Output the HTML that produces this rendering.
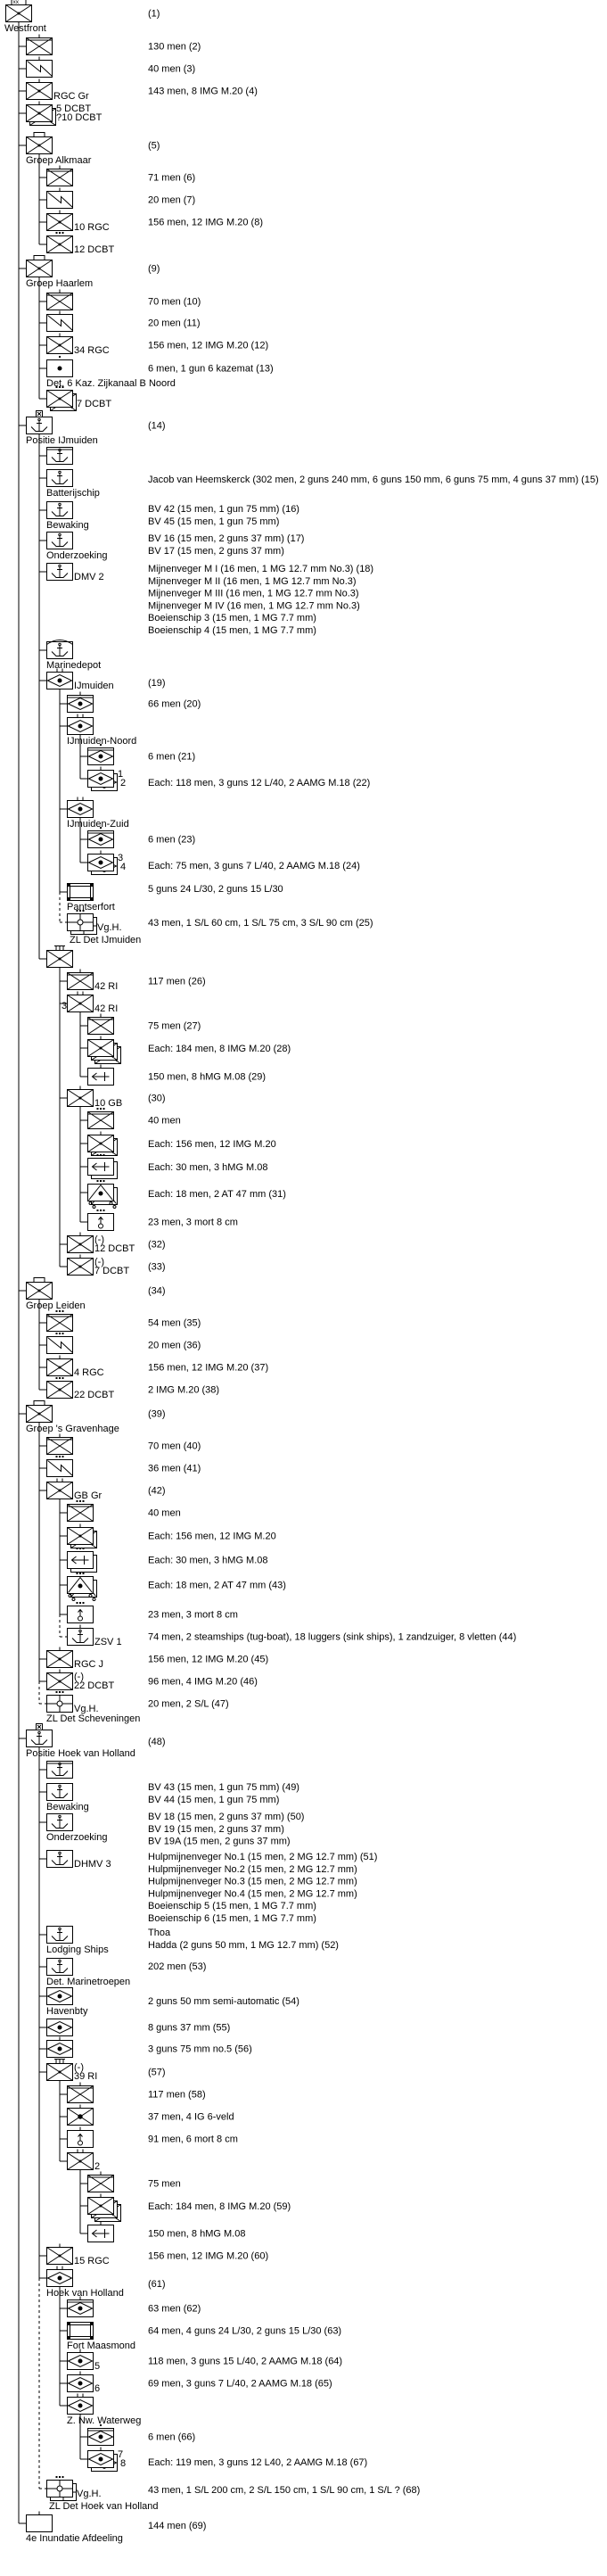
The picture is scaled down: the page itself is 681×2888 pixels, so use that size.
<!DOCTYPE html>
<html><head><meta charset="utf-8"><style>
html,body{margin:0;padding:0;background:#fff;}
svg{display:block;}
text{font-family:"Liberation Sans",sans-serif;font-size:11px;fill:#000;}
</style></head><body>
<svg id="s" width="681" height="2888" xmlns="http://www.w3.org/2000/svg"></svg>
<script>
const N=[
[0,5,'infd',{m:'xx',b:'Westfront',t:['(1)']}],
[1,42,'inf',{hq:1,m:'i',t:['130 men   (2)']}],
[1,67,'sig',{m:'i',t:['40 men   (3)']}],
[1,92,'infd',{m:'i',r:['RGC Gr'],t:['143 men, 8 IMG M.20   (4)']}],
[1,117,'infd',{m:'i',st:1,r:['5 DCBT','?10 DCBT']}],
[1,153,'infd',{m:'grp',b:'Groep Alkmaar',t:['(5)']}],
[2,189,'inf',{hq:1,m:'i',t:['71 men   (6)']}],
[2,214,'sig',{m:'i',t:['20 men   (7)']}],
[2,239,'infd',{m:'i',r:['10 RGC'],t:['156 men, 12 IMG M.20   (8)']}],
[2,264,'infd',{m:'dots',r:['12 DCBT']}],
[1,291,'infd',{m:'grp',b:'Groep Haarlem',t:['(9)']}],
[2,328,'inf',{hq:1,m:'i',t:['70 men   (10)']}],
[2,352,'sig',{m:'i',t:['20 men   (11)']}],
[2,377,'infd',{m:'i',r:['34 RGC'],t:['156 men, 12 IMG M.20   (12)']}],
[2,403,'dot',{m:'dot',b:'Det. 6 Kaz. Zijkanaal B Noord',t:['6 men, 1 gun 6 kazemat   (13)']}],
[2,437,'infd',{m:'dots',st:1,r:['7 DCBT']}],
[1,467,'anc',{m:'x',b:'Positie IJmuiden',t:['(14)']}],
[2,501,'anc',{hq:1}],
[2,526,'anc',{b:'Batterijschip',t:['Jacob van Heemskerck (302 men, 2 guns 240 mm, 6 guns 150 mm, 6 guns 75 mm, 4 guns 37 mm)   (15)'],ty:537}],
[2,562,'anc',{b:'Bewaking',t:['BV 42 (15 men, 1 gun 75 mm)   (16)','BV 45 (15 men, 1 gun 75 mm)'],ty:570}],
[2,596,'anc',{b:'Onderzoeking',t:['BV 16 (15 men, 2 guns 37 mm)   (17)','BV 17 (15 men, 2 guns 37 mm)'],ty:603}],
[2,631,'anc',{r:['DMV 2'],t:['Mijnenveger M I (16 men, 1 MG 12.7 mm No.3)   (18)','Mijnenveger M II (16 men, 1 MG 12.7 mm No.3)','Mijnenveger M III (16 men, 1 MG 12.7 mm No.3)','Mijnenveger M IV (16 men, 1 MG 12.7 mm No.3)','Boeienschip 3 (15 men, 1 MG 7.7 mm)','Boeienschip 4 (15 men, 1 MG 7.7 mm)'],ty:637}],
[2,719,'anc',{m:'arch',b:'Marinedepot'}],
[2,753,'dia',{m:'ii',r:['IJmuiden'],t:['(19)'],ty:765}],
[3,779,'dia',{hq:1,m:'i',t:['66 men   (20)']}],
[3,804,'dia',{m:'ii',b:'IJmuiden-Noord'}],
[4,838,'dia',{hq:1,m:'dot',t:['6 men   (21)']}],
[4,863,'dia',{m:'i',st:1,r:['1','2'],t:['Each: 118 men, 3 guns 12 L/40, 2 AAMG M.18   (22)'],ty:877}],
[3,897,'dia',{m:'ii',b:'IJmuiden-Zuid'}],
[4,931,'dia',{hq:1,m:'dot',t:['6 men   (23)']}],
[4,957,'dia',{m:'i',st:1,r:['3','4'],t:['Each: 75 men, 3 guns 7 L/40, 2 AAMG M.18   (24)'],ty:970}],
[3,990,'fort',{b:'Pantserfort',t:['5 guns 24 L/30, 2 guns 15 L/30'],ty:996}],
[3,1024,'circ',{m:'dots',st:1,dash:1,r:['Vg.H.'],b:'ZL Det IJmuiden',bx:3,t:['43 men, 1 S/L 60 cm, 1 S/L 75 cm, 3 S/L 90 cm   (25)'],ty:1034}],
[2,1065,'infd',{m:'iii'}],
[3,1090,'inf',{hq:1,m:'i',r:['42 RI'],t:['117 men   (26)']}],
[3,1115,'infd',{m:'ii',l:'3',r:['42 RI']}],
[4,1140,'inf',{hq:1,m:'i',t:['75 men   (27)']}],
[4,1165,'infd',{m:'i',st:2,t:['Each: 184 men, 8 IMG M.20   (28)'],ty:1175}],
[4,1197,'at',{m:'i',t:['150 men, 8 hMG M.08   (29)']}],
[3,1221,'infd',{m:'i',r:['10 GB'],t:['(30)']}],
[4,1246,'inf',{hq:1,m:'dots',t:['40 men']}],
[4,1272,'infd',{m:'i',st:1,t:['Each: 156 men, 12 IMG M.20'],ty:1282}],
[4,1298,'at',{m:'dots',st:1,t:['Each: 30 men, 3 hMG M.08'],ty:1308}],
[4,1327,'tri',{m:'dots',st:1,t:['Each: 18 men, 2 AT 47 mm   (31)'],ty:1338}],
[4,1360,'mort',{m:'dots',t:['23 men, 3 mort 8 cm']}],
[3,1385,'infd',{m:'i',r:['(-)','12 DCBT'],t:['(32)']}],
[3,1410,'infd',{m:'i',r:['(-)','7 DCBT'],t:['(33)']}],
[1,1437,'infd',{m:'grp',b:'Groep Leiden',t:['(34)']}],
[2,1473,'inf',{hq:1,m:'dots',t:['54 men   (35)']}],
[2,1498,'sig',{m:'dots',t:['20 men   (36)']}],
[2,1523,'infd',{m:'i',r:['4 RGC'],t:['156 men, 12 IMG M.20   (37)']}],
[2,1548,'infd',{m:'dots',r:['22 DCBT'],t:['2 IMG M.20   (38)']}],
[1,1575,'infd',{m:'grp',b:"Groep 's Gravenhage",t:['(39)']}],
[2,1611,'inf',{hq:1,m:'i',t:['70 men   (40)']}],
[2,1636,'sig',{m:'dots',t:['36 men   (41)']}],
[2,1661,'infd',{m:'ii',r:['GB Gr'],t:['(42)']}],
[3,1686,'inf',{hq:1,m:'dots',t:['40 men']}],
[3,1712,'infd',{m:'i',st:1,t:['Each: 156 men, 12 IMG M.20']}],
[3,1739,'at',{m:'dots',st:1,t:['Each: 30 men, 3 hMG M.08']}],
[3,1767,'tri',{m:'dots',st:1,t:['Each: 18 men, 2 AT 47 mm   (43)']}],
[3,1800,'mort',{m:'dots',t:['23 men, 3 mort 8 cm']}],
[3,1825,'anc',{dash:1,m:'i',r:['ZSV 1'],t:['74 men, 2 steamships (tug-boat), 18 luggers (sink ships), 1 zandzuiger, 8 vletten   (44)']}],
[2,1850,'infd',{m:'i',r:['RGC J'],t:['156 men, 12 IMG M.20   (45)']}],
[2,1875,'infd',{m:'i',r:['(-)','22 DCBT'],t:['96 men, 4 IMG M.20   (46)']}],
[2,1900,'circ',{m:'dots',dash:1,r:['Vg.H.'],b:'ZL Det Scheveningen',t:['20 men, 2 S/L   (47)']}],
[1,1939,'anc',{m:'x',b:'Positie Hoek van Holland',t:['(48)'],ty:1952}],
[2,1974,'anc',{hq:1}],
[2,1999,'anc',{b:'Bewaking',t:['BV 43 (15 men, 1 gun 75 mm)   (49)','BV 44 (15 men, 1 gun 75 mm)'],ty:2003}],
[2,2033,'anc',{b:'Onderzoeking',t:['BV 18 (15 men, 2 guns 37 mm)   (50)','BV 19 (15 men, 2 guns 37 mm)','BV 19A (15 men, 2 guns 37 mm)'],ty:2036}],
[2,2074,'anc',{r:['DHMV 3'],t:['Hulpmijnenveger No.1 (15 men, 2 MG 12.7 mm)   (51)','Hulpmijnenveger No.2 (15 men, 2 MG 12.7 mm)','Hulpmijnenveger No.3 (15 men, 2 MG 12.7 mm)','Hulpmijnenveger No.4 (15 men, 2 MG 12.7 mm)','Boeienschip 5 (15 men, 1 MG 7.7 mm)','Boeienschip 6 (15 men, 1 MG 7.7 mm)'],ty:2081}],
[2,2159,'anc',{b:'Lodging Ships',t:['Thoa','Hadda (2 guns 50 mm, 1 MG 12.7 mm)   (52)'],ty:2166}],
[2,2195,'anc',{b:'Det. Marinetroepen',t:['202 men   (53)'],ty:2204}],
[2,2228,'dia',{b:'Havenbty',t:['2 guns 50 mm semi-automatic   (54)'],ty:2243}],
[2,2263,'dia',{t:['8 guns 37 mm   (55)']}],
[2,2287,'dia',{m:'i',t:['3 guns 75 mm no.5   (56)']}],
[2,2313,'infd',{m:'iii',r:['(-)','39 RI'],t:['(57)']}],
[3,2338,'inf',{hq:1,m:'i',t:['117 men   (58)']}],
[3,2363,'infD',{m:'i',t:['37 men, 4 IG 6-veld']}],
[3,2388,'mort',{m:'i',t:['91 men, 6 mort 8 cm']}],
[3,2413,'infd',{m:'ii',r:['2']}],
[4,2438,'inf',{hq:1,m:'i',t:['75 men']}],
[4,2463,'infd',{m:'i',st:2,t:['Each: 184 men, 8 IMG M.20   (59)'],ty:2473}],
[4,2494,'at',{m:'i',t:['150 men, 8 hMG M.08']}],
[2,2519,'infd',{m:'i',r:['15 RGC'],t:['156 men, 12 IMG M.20   (60)']}],
[2,2544,'dia',{m:'ii',b:'Hoek van Holland',t:['(61)'],ty:2560}],
[3,2578,'dia',{hq:1,m:'i',t:['63 men   (62)']}],
[3,2603,'fort',{b:'Fort Maasmond',t:['64 men, 4 guns 24 L/30, 2 guns 15 L/30   (63)']}],
[3,2637,'dia',{m:'i',r:['5'],t:['118 men, 3 guns 15 L/40, 2 AAMG M.18   (64)']}],
[3,2662,'dia',{m:'i',r:['6'],t:['69 men, 3 guns 7 L/40, 2 AAMG M.18   (65)']}],
[3,2687,'dia',{m:'ii',b:'Z. Nw. Waterweg'}],
[4,2722,'dia',{hq:1,m:'dot',t:['6 men   (66)']}],
[4,2747,'dia',{m:'i',st:1,r:['7','8'],t:['Each: 119 men, 3 guns 12 L40, 2 AAMG M.18   (67)'],ty:2760}],
[2,2780,'circ',{m:'dots',st:1,dash:1,r:['Vg.H.'],b:'ZL Det Hoek van Holland',bx:3,t:['43 men, 1 S/L 200 cm, 2 S/L 150 cm, 1 S/L 90 cm, 1 S/L ?   (68)'],ty:2791}],
[1,2819,'none',{m:'i',b:'4e Inundatie Afdeeling',t:['144 men   (69)'],ty:2831}]
];
const W=29,H=19;
let s='<rect x="-1" y="-1" width="690" height="2900" fill="#fff"/><g transform="translate(0.5,0.5)" stroke="#000" stroke-width="1" fill="none">';
let tx='';
const esc=t=>t.replace(/&/g,'&amp;').replace(/</g,'&lt;');
function ln(a,b,c,d,ds){s+=`<line x1="${a}" y1="${b}" x2="${c}" y2="${d}"${ds?' stroke-dasharray="3,3"':''}/>`;}
function T(x,y,t,fs){tx+=`<text x="${x}" y="${y}"${fs?` style="font-size:${fs}px"`:''}>${esc(t)}</text>`;}
function sym(k,x,y){
 const cx=x+14.5,my=y+9.5;
 s+=`<rect x="${x}" y="${y}" width="${W}" height="${H}" fill="#fff"/>`;
 if(k=='inf'||k=='infd'||k=='infD'){ln(x,y,x+W,y+H);ln(x+W,y,x,y+H);
   if(k=='infd')s+=`<circle cx="${cx}" cy="${my}" r="1" fill="#000"/>`;
   if(k=='infD')s+=`<circle cx="${cx}" cy="${my}" r="2.2" fill="#000"/>`;}
 else if(k=='sig'){s+=`<path d="M${x+1},${y+1} L${x+16},${y+13} L${x+16},${y+6} L${x+W},${y+18}"/>`;}
 else if(k=='anc'){s+=`<circle cx="${cx}" cy="${y+3}" r="1.2"/>`;ln(cx,y+4,cx,y+16);ln(cx-3,y+7,cx+3,y+7);
   s+=`<path d="M${cx-9},${y+11} L${cx-4},${y+16} L${cx+4},${y+16} L${cx+9},${y+11}"/>`;}
 else if(k=='dia'){s+=`<path d="M${x+1},${my} L${cx},${y+3} L${x+28},${my} L${cx},${y+16} Z"/><circle cx="${cx}" cy="${my}" r="2" fill="#000"/>`;}
 else if(k=='fort'){s+=`<rect x="${x+3}" y="${y+3}" width="${W-6}" height="${H-6}"/>`;
   for(const [a,b] of [[x,y],[x+W-3,y],[x,y+H-3],[x+W-3,y+H-3]])s+=`<rect x="${a}" y="${b}" width="3" height="3" fill="#000"/>`;}
 else if(k=='circ'){ln(x,my,x+W,my);ln(cx,y,cx,y+H);s+=`<circle cx="${cx}" cy="${my}" r="3" fill="#fff"/>`;}
 else if(k=='at'){ln(x+5,my,x+24,my);s+=`<path d="M${x+10},${my-4} L${x+5},${my} L${x+10},${my+4}"/>`;ln(x+19,my-5,x+19,my+5);}
 else if(k=='tri'){s+=`<path d="M${x+1},${y+18} L${cx},${y+1} L${x+28},${y+18}"/><circle cx="${cx}" cy="${my+1}" r="2" fill="#000"/>`;}
 else if(k=='mort'){s+=`<circle cx="${cx}" cy="${y+14}" r="2.5"/>`;ln(cx,y+11.5,cx,y+4);s+=`<path d="M${cx-2.5},${y+7} L${cx},${y+4} L${cx+2.5},${y+7}"/>`;}
 else if(k=='dot'){s+=`<circle cx="${cx}" cy="${my}" r="2" fill="#000"/>`;}
}
const kids={};const stack=[];
N.forEach((n,i)=>{
 const [l,y,k,o]=n;const x=6+23*l,cx=x+14.5;
 stack[l]=i;stack.length=l+1;
 if(l>0){const p=stack[l-1];(kids[p]=kids[p]||[]).push({mid:y+9.5,dash:o.dash});
   const pcx=6+23*(l-1)+14.5; ln(pcx,y+9.5,x,y+9.5,o.dash);}
 const st=o.st||0;
 for(let j=st;j>=1;j--)sym(k,x+4*j,y+4*j);
 sym(k,x,y);
 if(k=='tri'){for(let j=st;j>=0;j--){s+=`<circle cx="${x+4*j+3}" cy="${y+4*j+21.5}" r="1.5"/><circle cx="${x+4*j+26}" cy="${y+4*j+21.5}" r="1.5"/>`;}}
 if(o.hq)ln(x,y+2.5,x+W,y+2.5);
 const m=o.m;
 if(m=='i')ln(cx,y-4,cx,y);
 if(m=='ii'){ln(cx-3,y-4,cx-3,y);ln(cx+3,y-4,cx+3,y);}
 if(m=='iii'){ln(cx-4,y-5,cx-4,y);ln(cx,y-5,cx,y);ln(cx+4,y-5,cx+4,y);ln(cx-6,y-5,cx+6,y-5);}
 if(m=='dots'){for(const d of [-3.5,0,3.5])s+=`<rect x="${cx+d-0.5}" y="${y-4}" width="1" height="1" fill="#000"/>`;}
 if(m=='dot')s+=`<rect x="${cx-0.5}" y="${y-4}" width="1" height="1" fill="#000"/>`;
 if(m=='grp')s+=`<rect x="${cx-6}" y="${y-5}" width="12" height="5"/>`;
 if(m=='x'){s+=`<rect x="${cx-3.5}" y="${y-7}" width="7" height="7"/>`;ln(cx-2,y-5.5,cx+2,y-1.5);ln(cx+2,y-5.5,cx-2,y-1.5);}
 if(m=='xx'){s+=`<rect x="${cx-8}" y="${y-7}" width="16" height="7"/>`;T(cx-6,y-1,'xx',6.5);}
 if(m=='arch')s+=`<path d="M${x},${y+3} Q${cx},${y-7} ${x+W},${y+3}"/>`;
 if(o.r){const rx=x+W+2+(st?3*st:0);
   if(o.r.length==1)T(rx,y+19,o.r[0]);else{T(rx,y+8,o.r[0]);T(rx+(o.r[0].length==1?3:0),y+18,o.r[1]);}}
 if(o.l)T(x-6,y+16,o.l);
 if(o.b)T(x+(o.bx||0)-(l==0?1:0),y+H+11+(st?3:0),o.b);
 if(o.t){let ty=o.ty||y+9.5;o.t.forEach((t,j)=>T(166,ty+4+j*13.8,t));}
});
for(const p in kids){const n=N[p];const l=n[0];const pcx=6+23*l+14.5;const top=n[1]+H;
 const ks=kids[p];const solid=ks.filter(c=>!c.dash).map(c=>c.mid);const dsh=ks.filter(c=>c.dash).map(c=>c.mid);
 let ls=solid.length?Math.max(...solid):top;
 ln(pcx,top,pcx,ls);
 if(dsh.length)ln(pcx,ls,pcx,Math.max(...dsh),1);}
s+='</g>';
document.getElementById('s').innerHTML=s+tx;
</script>
</body></html>
